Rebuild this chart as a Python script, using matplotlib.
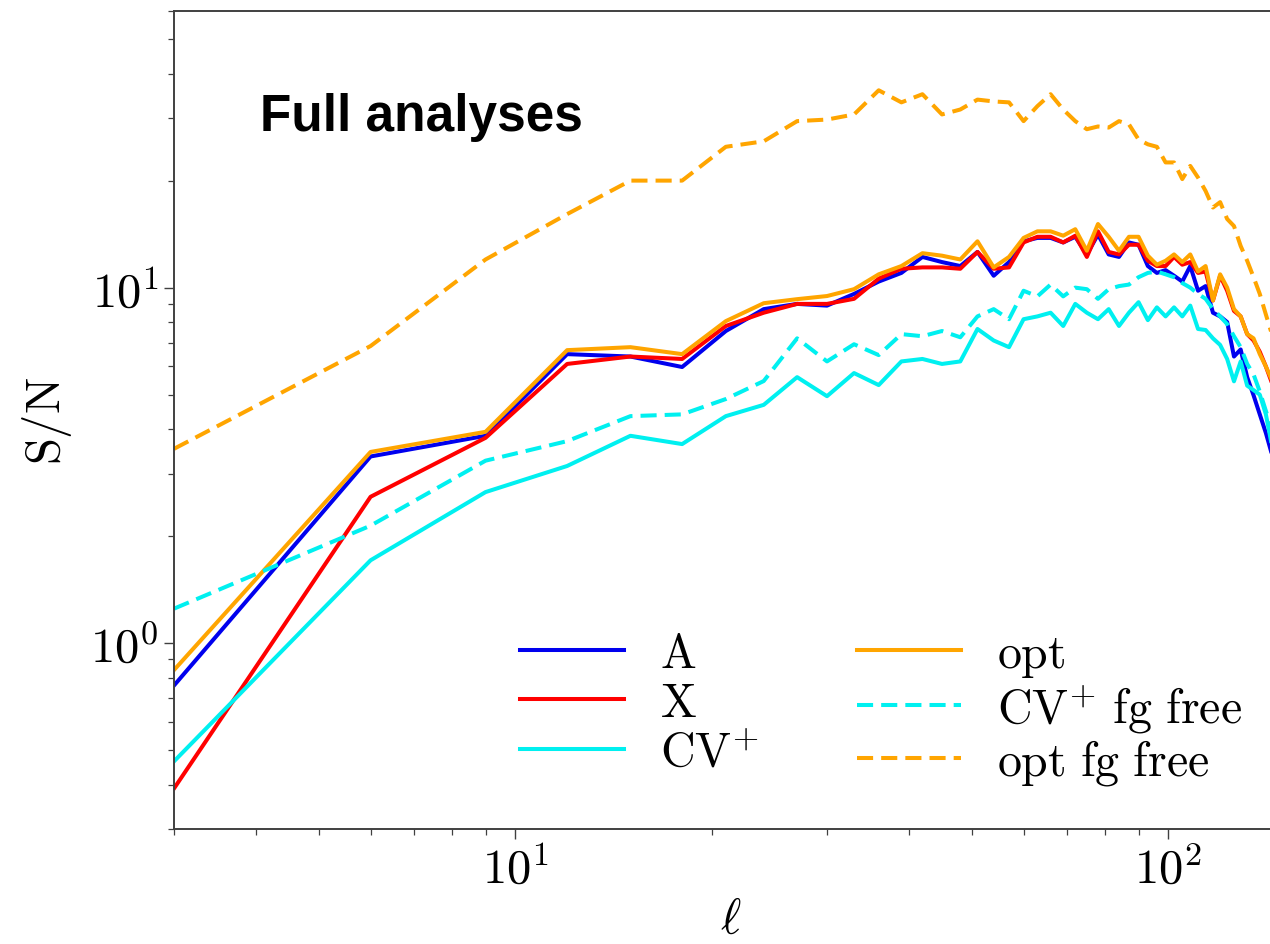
import numpy as np
import matplotlib
matplotlib.use("Agg")
import matplotlib.pyplot as plt
from matplotlib.ticker import FuncFormatter, NullFormatter, LogLocator

plt.rcParams["mathtext.fontset"] = "cm"
plt.rcParams["font.family"] = ["DejaVu Sans"]

# multipole bins
ell = [3, 6, 9, 12, 15, 18, 21, 24, 27, 30, 33, 36, 39, 42, 45, 48, 51, 54,
       57, 60, 63, 66, 69, 72, 75, 78, 81, 84, 87, 90, 93, 96, 99, 102, 105,
       108, 111, 114, 117, 120, 123, 126, 129, 132, 135, 138, 141, 144, 147]

sn_A = [0.76, 3.35, 3.83, 6.5, 6.4, 5.98, 7.55, 8.7, 9.0, 8.9, 9.6, 10.4, 11.0,
        12.2, 11.8, 11.5, 12.6, 10.8, 11.8, 13.5, 13.8, 13.8, 13.4, 13.9, 12.4,
        14.1, 12.4, 12.2, 13.4, 13.2, 11.5, 11.0, 11.2, 10.8, 10.4, 11.5, 9.8,
        10.1, 8.5, 8.3, 8.0, 6.4, 6.7, 5.6, 4.98, 4.4, 3.9, 3.4, 2.9]

sn_X = [0.39, 2.58, 3.78, 6.1, 6.4, 6.3, 7.8, 8.5, 9.0, 9.0, 9.3, 10.6, 11.3,
        11.4, 11.4, 11.3, 12.6, 11.3, 11.4, 13.4, 13.9, 13.9, 13.4, 14.0, 12.2,
        14.4, 12.6, 12.4, 13.2, 13.2, 11.9, 11.5, 11.5, 12.2, 11.6, 11.8, 11.0,
        11.1, 9.2, 10.8, 9.8, 8.6, 8.3, 7.4, 7.1, 6.6, 6.0, 5.4, 4.7]

sn_CV = [0.465, 1.71, 2.66, 3.15, 3.83, 3.63, 4.35, 4.68, 5.6, 4.95, 5.75, 5.32,
         6.2, 6.3, 6.1, 6.2, 7.65, 7.1, 6.8, 8.15, 8.3, 8.5, 7.8, 9.0, 8.5, 8.15,
         8.7, 7.8, 8.5, 9.1, 8.1, 8.8, 8.3, 8.8, 8.3, 8.9, 7.65, 7.6, 7.2, 6.9,
         6.3, 5.45, 6.2, 5.3, 5.15, 5.0, 4.4, 3.6, 3.0]

sn_opt = [0.84, 3.45, 3.93, 6.67, 6.80, 6.50, 8.05, 9.04, 9.28, 9.47, 9.9, 10.9,
          11.5, 12.5, 12.3, 12.0, 13.5, 11.4, 12.2, 13.8, 14.4, 14.4, 14.0, 14.6,
          12.7, 15.1, 13.9, 12.7, 13.9, 13.9, 12.3, 11.6, 11.9, 12.4, 11.8, 12.4,
          11.1, 11.5, 9.2, 10.9, 10.0, 8.7, 8.3, 7.4, 7.2, 6.5, 6.0, 5.5, 4.8]

sn_CV_free = [1.25, 2.14, 3.26, 3.7, 4.35, 4.4, 4.86, 5.46, 7.2, 6.2, 6.93, 6.46,
              7.4, 7.3, 7.55, 7.25, 8.3, 8.7, 8.15, 9.8, 9.45, 10.2, 9.45, 10.0,
              9.9, 9.3, 9.9, 10.1, 10.2, 10.7, 11.0, 11.1, 10.9, 10.7, 10.3, 10.0,
              9.6, 9.3, 8.7, 8.3, 7.9, 7.3, 6.8, 6.1, 5.7, 5.1, 4.5, 4.0, 3.5]

sn_opt_free = [3.52, 6.85, 12.0, 16.1, 20.0, 20.0, 24.9, 25.8, 29.4, 29.7, 30.7,
               35.9, 33.2, 35.0, 30.7, 31.7, 33.8, 33.4, 33.2, 29.4, 32.4, 35.0,
               31.7, 29.4, 27.9, 28.4, 28.2, 29.4, 28.8, 26.1, 25.3, 24.9, 22.5,
               22.5, 20.2, 22.0, 20.4, 18.7, 16.8, 17.4, 15.6, 14.9, 13.1, 11.9,
               10.7, 9.6, 8.4, 7.4, 6.3]

labels = [r"$\mathrm{A}$", r"$\mathrm{X}$", r"$\mathrm{CV}^{+}$",
          r"$\mathrm{opt}$", r"$\mathrm{CV}^{+}\ \mathrm{fg\ free}$",
          r"$\mathrm{opt\ fg\ free}$"]

W, H = 1270, 945
fig = plt.figure(figsize=(W / 100, H / 100), dpi=100)

xmin, xmax = 3.0, 152.0
ymin, ymax = 0.3, 60.0
decade_px = 653.0
left_px, top_px, bottom_px = 174, 12, 830
width_px = decade_px * (np.log10(xmax) - np.log10(xmin))
ax = fig.add_axes([left_px / W, (H - bottom_px) / H,
                   width_px / W, (bottom_px - top_px) / H])

lw = 2.9
dash = (4, 2)
ax.plot(ell, sn_A, color="#0000ee", lw=lw, label=labels[0])
ax.plot(ell, sn_X, color="#ff0000", lw=lw, label=labels[1])
ax.plot(ell, sn_CV, color="#00f0f0", lw=lw, label=labels[2])
ax.plot(ell, sn_opt, color="#ffa500", lw=lw, label=labels[3])
ax.plot(ell, sn_CV_free, color="#00f0f0", lw=lw, ls="--", dashes=dash,
        label=labels[4])
ax.plot(ell, sn_opt_free, color="#ffa500", lw=lw, ls="--", dashes=dash,
        label=labels[5])

ax.set_xscale("log")
ax.set_yscale("log")
ax.set_xlim(xmin, xmax)
ax.set_ylim(ymin, ymax)

fmt = FuncFormatter(lambda v, p: r"$10^{%d}$" % int(round(np.log10(v))))
for axis in (ax.xaxis, ax.yaxis):
    axis.set_major_locator(LogLocator(base=10))
    axis.set_minor_locator(LogLocator(base=10, subs=np.arange(2, 10)))
    axis.set_major_formatter(fmt)
    axis.set_minor_formatter(NullFormatter())

for sp in ax.spines.values():
    sp.set_color("#404040")
    sp.set_linewidth(1.4)

ax.tick_params(which="major", direction="out", length=7, width=1.0,
               color="#404040", labelsize=35, pad=4)
ax.tick_params(which="minor", direction="out", length=4, width=0.9,
               color="#404040")

ax.set_xlabel(r"$\ell$", fontsize=35, labelpad=2)
ax.set_ylabel(r"$\mathrm{S/N}$", fontsize=35, labelpad=12)

ax.legend(ncol=2, frameon=False, fontsize=34.5, loc="lower left",
          bbox_to_anchor=(520 / W, (H - 788) / H),
          bbox_transform=fig.transFigure, borderpad=0, borderaxespad=0,
          handlelength=2.17, handletextpad=0.75, labelspacing=0.05,
          columnspacing=2.05)

fig.text(260 / W, (H - 131) / H, "Full analyses", fontsize=37,
         fontweight="bold", family=["Liberation Sans", "DejaVu Sans"],
         ha="left", va="baseline")

fig.savefig("out.png", dpi=100)
